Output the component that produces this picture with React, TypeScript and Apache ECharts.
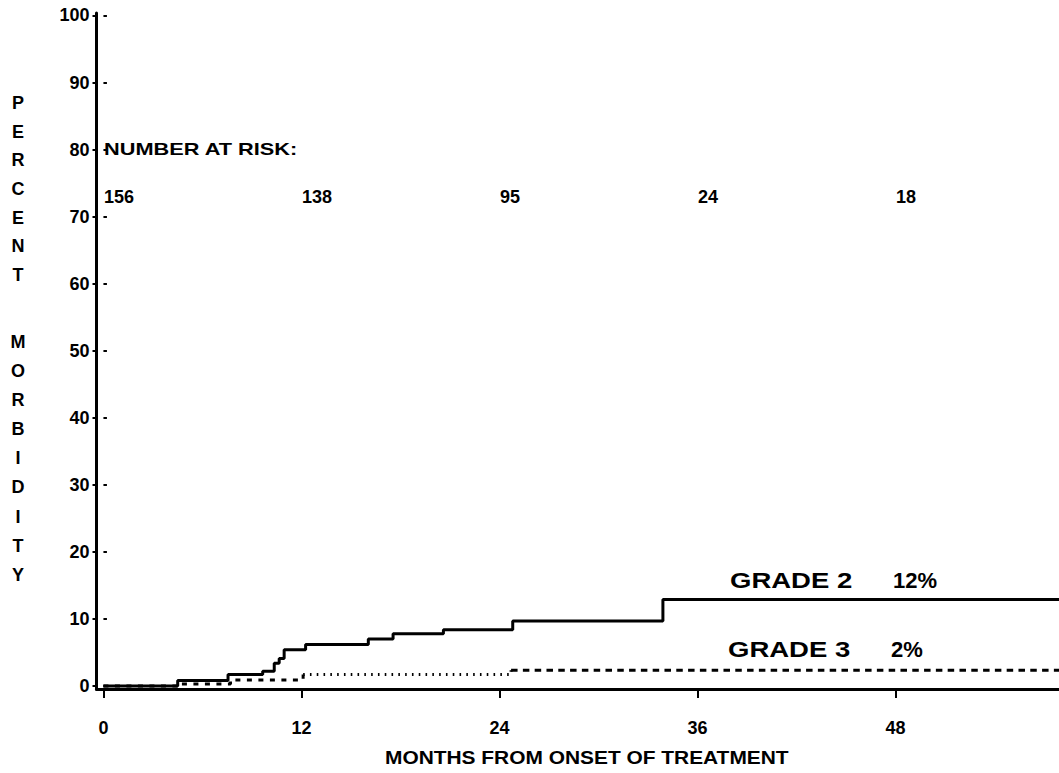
import React, { useEffect, useRef } from "react";
import * as echarts from "echarts";

// ---- data ----
const xTicks = [0, 12, 24, 36, 48];
const yTicks = [0, 10, 20, 30, 40, 50, 60, 70, 80, 90, 100];

const grade2Months = [0, 4.5, 7.55, 9.65, 10.35, 10.65, 10.95, 12.25, 16.05, 17.55, 20.6, 24.8, 33.9, 57.9];
const grade2Pct = [0, 0.8, 1.7, 2.2, 3.4, 4.1, 5.4, 6.2, 7.0, 7.8, 8.4, 9.7, 12.9, 12.9];

const grade3Months = [0, 4.5, 7.7, 12.1, 24.7, 57.9];
const grade3Pct = [0, 0.3, 0.9, 1.7, 2.35, 2.35];

const riskMonths = [0, 12, 24, 36, 48];
const riskCounts = [156, 138, 95, 24, 18];

const seriesLabels = ["GRADE 2", "GRADE 3"];
const finalPercents = ["12%", "2%"];
const yTitleWords = ["PERCENT", "MORBIDITY"];
const xTitle = "MONTHS FROM ONSET OF TREATMENT";
const riskTitle = "NUMBER AT RISK:";

// ---- layout constants ----
const X_MIN = -0.42;
const X_MAX = 57.9;
const Y_MIN = -0.45;
const Y_MAX = 100.37;
const RISK_ROW = 73.0;
const FONT = '"Liberation Sans", Arial, sans-serif';

function pairs(xs: number[], ys: number[], from = 0, to = xs.length - 1) {
  const out: number[][] = [];
  for (let i = from; i <= to; i++) out.push([xs[i], ys[i]]);
  return out;
}

export default function App() {
  const ref = useRef<HTMLDivElement>(null);

  useEffect(() => {
    if (!ref.current) return;
    const chart = echarts.init(ref.current, undefined, { renderer: "svg" });

    const g3Segments = [
      { data: pairs(grade3Months, grade3Pct, 0, 3), dash: [5, 6.5] },
      { data: pairs(grade3Months, grade3Pct, 3, 4), dash: [1.6, 5.2] },
      { data: pairs(grade3Months, grade3Pct, 4, 5), dash: [6.5, 5.3] },
    ];

    const letterText = (word: string) => word.split("").join("\n");
    const labelFont = {
      color: "#000",
      fontSize: 18,
      fontWeight: "bold",
      fontFamily: FONT,
    };

    const option: any = {
      animation: false,
      backgroundColor: "#fff",
      grid: {
        left: 96.5,
        right: 0,
        top: 13,
        bottom: 84,
        containLabel: false,
      },
      xAxis: {
        type: "value",
        min: X_MIN,
        max: X_MAX,
        axisLine: { show: true, onZero: false, lineStyle: { color: "#000", width: 3 } },
        axisTick: {
          show: true,
          length: 9,
          customValues: xTicks,
          lineStyle: { color: "#000", width: 2 },
        },
        axisLabel: { show: false },
        splitLine: { show: false },
      },
      yAxis: [
        {
          type: "value",
          min: Y_MIN,
          max: Y_MAX,
          axisLine: { show: true, onZero: false, lineStyle: { color: "#000", width: 3 } },
          axisTick: {
            show: true,
            length: 4,
            customValues: yTicks,
            lineStyle: { color: "#000", width: 2 },
          },
          axisLabel: {
            customValues: yTicks,
            margin: 7,
            ...labelFont,
          },
          splitLine: { show: false },
        },
        {
          type: "value",
          position: "left",
          min: Y_MIN,
          max: Y_MAX,
          axisLine: { show: false },
          axisTick: {
            show: true,
            inside: true,
            length: 3.5,
            customValues: yTicks,
            lineStyle: { color: "#000", width: 2 },
          },
          axisLabel: { show: false },
          splitLine: { show: false },
        },
      ],
      series: [
        {
          type: "line",
          name: seriesLabels[0],
          step: "end",
          data: pairs(grade2Months, grade2Pct),
          showSymbol: false,
          symbol: "none",
          lineStyle: { color: "#000", width: 3, type: "solid" },
          silent: true,
        },
        ...g3Segments.map((s) => ({
          type: "line",
          name: seriesLabels[1],
          step: "end",
          data: s.data,
          showSymbol: false,
          symbol: "none",
          lineStyle: { color: "#000", width: 3, type: s.dash },
          silent: true,
        })),
        {
          // number-at-risk row
          type: "scatter",
          data: riskMonths.map((m, i) => [m, RISK_ROW, riskCounts[i]]),
          symbolSize: 1,
          itemStyle: { color: "#000", opacity: 0 },
          silent: true,
          label: {
            show: true,
            position: "right",
            distance: 0,
            opacity: 1,
            formatter: (p: any) => String(p.value[2]),
            ...labelFont,
          },
        },
        {
          // x-axis tick labels
          type: "scatter",
          data: xTicks.map((m) => [m, Y_MIN]),
          symbolSize: 1,
          clip: false,
          itemStyle: { color: "#000", opacity: 0 },
          silent: true,
          label: {
            show: true,
            position: "bottom",
            distance: 29,
            opacity: 1,
            formatter: (p: any) => String(p.value[0]),
            ...labelFont,
          },
        },
      ],
      graphic: [
        {
          type: "text",
          x: 18,
          y: 103 - 14.35,
          style: {
            text: letterText(yTitleWords[0]),
            fill: "#000",
            fontSize: 18,
            fontWeight: "bold",
            fontFamily: FONT,
            lineHeight: 28.7,
            align: "center",
            verticalAlign: "top",
          },
        },
        {
          type: "text",
          x: 18,
          y: 342 - 14.55,
          style: {
            text: letterText(yTitleWords[1]),
            fill: "#000",
            fontSize: 18,
            fontWeight: "bold",
            fontFamily: FONT,
            lineHeight: 29.1,
            align: "center",
            verticalAlign: "top",
          },
        },
        {
          type: "text",
          x: 104,
          y: 150,
          scaleX: 1.36,
          style: {
            text: riskTitle,
            fill: "#000",
            fontSize: 16,
            fontWeight: "bold",
            fontFamily: FONT,
            align: "left",
            verticalAlign: "middle",
          },
        },
        {
          type: "text",
          x: 730,
          y: 580.5,
          scaleX: 1.25,
          style: {
            text: seriesLabels[0],
            fill: "#000",
            fontSize: 22,
            fontWeight: "bold",
            fontFamily: FONT,
            align: "left",
            verticalAlign: "middle",
          },
        },
        {
          type: "text",
          x: 893,
          y: 580.5,
          style: {
            text: finalPercents[0],
            fill: "#000",
            fontSize: 22,
            fontWeight: "bold",
            fontFamily: FONT,
            align: "left",
            verticalAlign: "middle",
          },
        },
        {
          type: "text",
          x: 728,
          y: 649.5,
          scaleX: 1.25,
          style: {
            text: seriesLabels[1],
            fill: "#000",
            fontSize: 22,
            fontWeight: "bold",
            fontFamily: FONT,
            align: "left",
            verticalAlign: "middle",
          },
        },
        {
          type: "text",
          x: 891,
          y: 649.5,
          style: {
            text: finalPercents[1],
            fill: "#000",
            fontSize: 22,
            fontWeight: "bold",
            fontFamily: FONT,
            align: "left",
            verticalAlign: "middle",
          },
        },
        {
          type: "text",
          x: 385,
          y: 757,
          scaleX: 1.1,
          style: {
            text: xTitle,
            fill: "#000",
            fontSize: 19,
            fontWeight: "bold",
            fontFamily: FONT,
            align: "left",
            verticalAlign: "middle",
          },
        },
      ],
    };

    chart.setOption(option);
    return () => chart.dispose();
  }, []);

  return (
    <div
      ref={ref}
      style={{ position: "fixed", left: 0, top: 0, width: 1059, height: 773, background: "#fff" }}
    />
  );
}
